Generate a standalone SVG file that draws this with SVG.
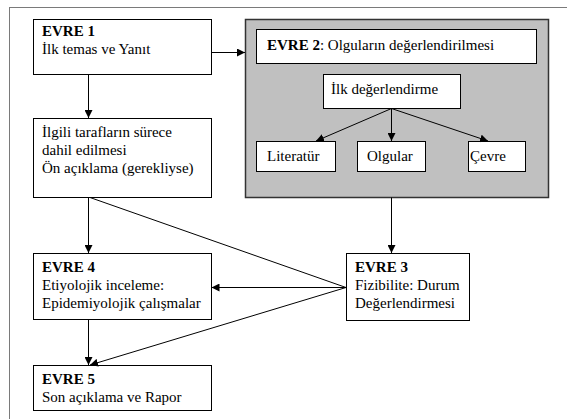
<svg xmlns="http://www.w3.org/2000/svg" width="567" height="419" viewBox="0 0 567 419">
<style>
.box{fill:#fff;stroke:#000;stroke-width:1}
.gray{fill:#c0c0c0;stroke:#333;stroke-width:1.5}
text{font-family:'Liberation Serif','Times New Roman',serif;font-size:15px;fill:#000}
.b{font-weight:bold}
.c{stroke:#000;stroke-width:1;fill:none}
</style>
<defs>
<marker id="ah" viewBox="0 0 10 10" refX="10" refY="5" markerWidth="8" markerHeight="8" markerUnits="userSpaceOnUse" orient="auto">
<path d="M0,0 L10,5 L0,10 Z" fill="#000"/>
</marker>
</defs>
<rect width="567" height="419" fill="#fff"/>
<g id="frame">
<path d="M9,7.5 H567 M9.5,7 V419" stroke="#7a7a7a" stroke-width="1" fill="none"/>
</g>
<g id="evre1">
<rect class="box" x="33.5" y="19.5" width="178" height="55"/>
<text x="42" y="36"><tspan class="b">EVRE 1</tspan><tspan x="42" dy="18">İlk temas ve Yanıt</tspan></text>
</g>
<g id="ilgili">
<rect class="box" x="33.5" y="118.5" width="178" height="79"/>
<text x="42" y="137">İlgili tarafların sürece<tspan x="42" dy="18">dahil edilmesi</tspan><tspan x="42" dy="18">Ön açıklama (gerekliyse)</tspan></text>
</g>
<g id="evre2">
<rect class="gray" x="245.5" y="19.5" width="303" height="178"/>
<g id="evre2title">
<rect class="box" x="256.5" y="29.5" width="280" height="34"/>
<text x="267" y="50"><tspan class="b">EVRE 2</tspan>: Olguların değerlendirilmesi</text>
</g>
<g id="ilkdeg">
<rect class="box" x="323.5" y="74.5" width="137" height="34"/>
<text x="331" y="94">İlk değerlendirme</text>
</g>
<g id="literatur">
<rect class="box" x="256.5" y="141.5" width="79" height="30"/>
<text x="267" y="161">Literatür</text>
</g>
<g id="olgular">
<rect class="box" x="357.5" y="141.5" width="68" height="30"/>
<text x="367" y="161">Olgular</text>
</g>
<g id="cevre">
<rect class="box" x="468.5" y="141.5" width="57" height="30"/>
<text x="470" y="161">Çevre</text>
</g>
</g>
<g id="evre3">
<rect class="box" x="346.5" y="253.5" width="123" height="67"/>
<text x="355" y="272"><tspan class="b">EVRE 3</tspan><tspan x="355" dy="18">Fizibilite: Durum</tspan><tspan x="355" dy="18">Değerlendirmesi</tspan></text>
</g>
<g id="evre4">
<rect class="box" x="33.5" y="253.5" width="178" height="66"/>
<text x="42" y="272"><tspan class="b">EVRE 4</tspan><tspan x="42" dy="18">Etiyolojik inceleme:</tspan><tspan x="42" dy="18">Epidemiyolojik çalışmalar</tspan></text>
</g>
<g id="evre5">
<rect class="box" x="33.5" y="365.5" width="178" height="45"/>
<text x="42" y="384"><tspan class="b">EVRE 5</tspan><tspan x="42" dy="18">Son açıklama ve Rapor</tspan></text>
</g>
<g id="connectors">
<path class="c" d="M211.5,52.5 H245" marker-end="url(#ah)"/>
<path class="c" d="M88.5,74.5 V118" marker-end="url(#ah)"/>
<path class="c" d="M88.5,197.5 V253" marker-end="url(#ah)"/>
<path class="c" d="M90,197.5 L346,287.5"/>
<path class="c" d="M391.5,197.5 V253" marker-end="url(#ah)"/>
<path class="c" d="M346,287.5 H211.5" marker-end="url(#ah)"/>
<path class="c" d="M346,287.5 L90,365" marker-end="url(#ah)"/>
<path class="c" d="M88.5,319.5 V365" marker-end="url(#ah)"/>
<path class="c" d="M391.5,108.5 L316,141" marker-end="url(#ah)"/>
<path class="c" d="M391.5,108.5 V141" marker-end="url(#ah)"/>
<path class="c" d="M391.5,108.5 L488,141" marker-end="url(#ah)"/>
</g>
</svg>
